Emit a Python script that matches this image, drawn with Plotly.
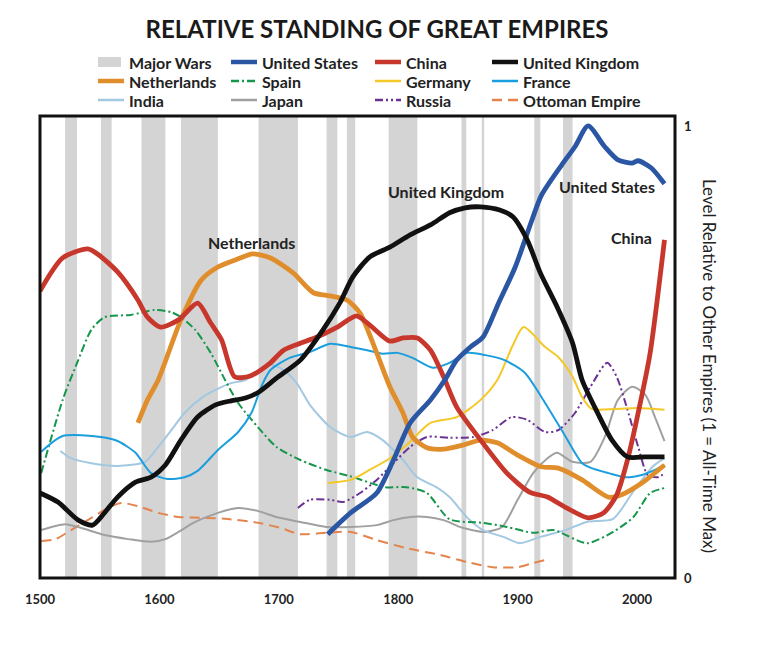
import plotly.graph_objects as go

# ---------------- data ----------------
war_start = [1521, 1551, 1585, 1618, 1683, 1740, 1757, 1792, 1853, 1870, 1914, 1938]
war_end   = [1531, 1560, 1605, 1649, 1716, 1749, 1764, 1816, 1857, 1872, 1919, 1946]

china_years = [1500,1519,1540,1549,1565,1582,1590,1601,1616,1632,1643,1652,1663,1676,1693,1704,1732,1749,1765,1776,1793,1804,1816,1827,1838,1849,1869,1891,1910,1925,1941,1959,1972,1983,1992,2002,2011,2023]
china_vals  = [0.635,0.708,0.728,0.715,0.677,0.615,0.577,0.555,0.571,0.608,0.564,0.527,0.445,0.447,0.476,0.504,0.533,0.555,0.580,0.560,0.524,0.531,0.531,0.504,0.445,0.378,0.305,0.232,0.190,0.179,0.155,0.133,0.144,0.184,0.261,0.378,0.498,0.748]

us_years = [1741,1760,1782,1796,1810,1827,1839,1849,1860,1871,1884,1898,1912,1920,1937,1948,1959,1973,1984,1996,2001,2012,2023]
us_vals  = [0.097,0.144,0.188,0.261,0.343,0.394,0.438,0.482,0.510,0.533,0.608,0.688,0.792,0.847,0.914,0.954,1.0,0.954,0.925,0.918,0.923,0.907,0.872]

uk_years = [1500,1515,1532,1544,1554,1565,1580,1593,1605,1618,1632,1647,1660,1672,1683,1698,1718,1737,1751,1762,1776,1793,1810,1827,1843,1856,1869,1885,1896,1908,1919,1933,1946,1954,1967,1979,1992,2007,2023]
uk_vals  = [0.188,0.168,0.128,0.117,0.144,0.179,0.212,0.223,0.250,0.305,0.356,0.383,0.392,0.398,0.411,0.442,0.482,0.549,0.608,0.666,0.710,0.732,0.759,0.781,0.808,0.819,0.821,0.814,0.799,0.748,0.675,0.600,0.520,0.438,0.365,0.305,0.268,0.268,0.268]

nl_years = [1582,1590,1599,1618,1635,1649,1666,1678,1693,1712,1729,1743,1757,1768,1782,1793,1804,1812,1824,1838,1854,1869,1883,1900,1920,1934,1954,1976,1987,2004,2023]
nl_vals  = [0.343,0.394,0.438,0.571,0.659,0.688,0.706,0.717,0.708,0.675,0.631,0.624,0.615,0.586,0.498,0.423,0.365,0.312,0.288,0.285,0.294,0.305,0.299,0.272,0.246,0.243,0.217,0.179,0.184,0.210,0.250]

spain_years = [1501,1519,1532,1543,1554,1576,1596,1610,1618,1630,1643,1655,1666,1683,1698,1718,1740,1760,1789,1807,1824,1843,1871,1891,1913,1930,1958,1980,1997,2011,2023]
spain_vals  = [0.232,0.394,0.482,0.549,0.577,0.582,0.593,0.588,0.577,0.549,0.498,0.438,0.387,0.332,0.290,0.261,0.239,0.225,0.201,0.201,0.188,0.130,0.122,0.113,0.100,0.106,0.077,0.102,0.135,0.188,0.199]

germany_years = [1741,1760,1776,1793,1807,1827,1849,1869,1883,1896,1905,1923,1934,1946,1954,1962,1982,2001,2023]
germany_vals  = [0.210,0.217,0.239,0.265,0.294,0.343,0.356,0.394,0.438,0.515,0.555,0.511,0.489,0.445,0.400,0.374,0.374,0.376,0.372]

france_years = [1501,1519,1551,1565,1580,1593,1607,1621,1632,1649,1666,1677,1686,1693,1709,1726,1743,1760,1774,1787,1799,1812,1829,1843,1858,1873,1889,1906,1920,1937,1954,1962,1976,1990,2004,2015,2023]
france_vals  = [0.279,0.314,0.312,0.303,0.277,0.232,0.219,0.223,0.237,0.283,0.323,0.365,0.427,0.460,0.487,0.500,0.518,0.511,0.504,0.496,0.498,0.487,0.465,0.476,0.498,0.493,0.482,0.454,0.400,0.327,0.254,0.243,0.232,0.223,0.228,0.239,0.250]

india_years = [1517,1526,1543,1565,1588,1599,1610,1621,1635,1647,1660,1672,1693,1704,1715,1726,1743,1760,1774,1787,1804,1816,1832,1843,1858,1871,1888,1902,1919,1940,1958,1980,1996,2013,2023]
india_vals  = [0.281,0.265,0.254,0.248,0.257,0.290,0.327,0.365,0.398,0.416,0.431,0.438,0.471,0.460,0.431,0.383,0.334,0.312,0.323,0.305,0.261,0.223,0.201,0.179,0.133,0.106,0.091,0.077,0.091,0.106,0.124,0.131,0.188,0.246,0.265]

japan_years = [1501,1521,1534,1554,1574,1593,1605,1616,1630,1649,1666,1683,1698,1718,1740,1760,1782,1796,1810,1824,1838,1854,1873,1887,1900,1913,1925,1933,1946,1961,1973,1984,1996,2007,2015,2023]
japan_vals  = [0.106,0.119,0.111,0.095,0.086,0.080,0.086,0.102,0.124,0.144,0.155,0.148,0.135,0.124,0.113,0.113,0.117,0.128,0.135,0.135,0.128,0.111,0.102,0.113,0.173,0.232,0.265,0.277,0.257,0.257,0.312,0.394,0.423,0.405,0.356,0.303]

russia_years = [1716,1726,1743,1754,1768,1782,1796,1810,1824,1843,1863,1879,1895,1908,1923,1934,1948,1961,1975,1983,1992,2001,2009,2018,2023]
russia_vals  = [0.155,0.173,0.173,0.168,0.188,0.217,0.254,0.290,0.312,0.310,0.312,0.327,0.356,0.350,0.323,0.327,0.365,0.423,0.476,0.445,0.372,0.290,0.228,0.223,0.232]

ottoman_years = [1501,1513,1526,1543,1557,1568,1582,1599,1616,1638,1655,1683,1701,1718,1740,1760,1782,1807,1835,1858,1879,1900,1913,1923]
ottoman_vals  = [0.082,0.086,0.106,0.133,0.155,0.166,0.159,0.144,0.135,0.133,0.131,0.122,0.111,0.097,0.100,0.102,0.084,0.066,0.051,0.035,0.024,0.024,0.033,0.040]

x_ticks = [1500, 1600, 1700, 1800, 1900, 2000]

# name, years, values, color, width, dash
series = [
    ("Ottoman Empire", ottoman_years, ottoman_vals, "#e4844c", 2, "10px,6px"),
    ("Japan", japan_years, japan_vals, "#a0a0a0", 2, "solid"),
    ("India", india_years, india_vals, "#a3c8e2", 2, "solid"),
    ("Russia", russia_years, russia_vals, "#6b3195", 2, "8px,3px,2px,3px,2px,3px"),
    ("Spain", spain_years, spain_vals, "#15964a", 2, "8px,3px,2px,3px"),
    ("Germany", germany_years, germany_vals, "#f4c826", 2, "solid"),
    ("France", france_years, france_vals, "#1b9ede", 2, "solid"),
    ("Netherlands", nl_years, nl_vals, "#e08e2c", 4.8, "solid"),
    ("China", china_years, china_vals, "#c8372b", 4.8, "solid"),
    ("United States", us_years, us_vals, "#2b56a3", 4.8, "solid"),
    ("United Kingdom", uk_years, uk_vals, "#111111", 4.8, "solid"),
]
style = {s[0]: s for s in series}

legend_rows = [
    ["Major Wars", "United States", "China", "United Kingdom"],
    ["Netherlands", "Spain", "Germany", "France"],
    ["India", "Japan", "Russia", "Ottoman Empire"],
]

# page body margin offsets the figure by 8px
OFF = 8
W, H = 768 - OFF, 647 - OFF
ML, MR, MT, MB = 40 - OFF, 93, 116 - OFF, 69
PW, PH = W - ML - MR, H - MT - MB

def px(xs):
    # screen x pixel -> paper fraction
    return (xs - OFF - ML) / PW

def py(ys):
    # screen y pixel -> paper fraction
    return (OFF + H - MB - ys) / PH

fig = go.Figure()
for name, yrs, vals, color, width, dash in series:
    fig.add_trace(go.Scatter(
        x=yrs, y=vals, mode="lines", name=name, showlegend=False,
        line=dict(color=color, width=width, dash=dash, shape="spline", smoothing=0.7),
        hoverinfo="skip"))

shapes = []
for s, e in zip(war_start, war_end):
    shapes.append(dict(type="rect", xref="x", yref="paper", x0=s, x1=e, y0=0, y1=1,
                       fillcolor="#d4d4d4", line=dict(width=0), layer="below"))
shapes.append(dict(type="rect", xref="paper", yref="paper", x0=0, x1=1, y0=0, y1=1,
                   line=dict(color="#111111", width=3), layer="above"))

annotations = []
FONT = "Lato, 'Open Sans', sans-serif"
col_sym = [98, 231, 375, 492]
row_y = [62, 81, 100]
for r, row in enumerate(legend_rows):
    for c, name in enumerate(row):
        x0 = col_sym[c]
        yy = row_y[r]
        if name == "Major Wars":
            shapes.append(dict(type="rect", xref="paper", yref="paper",
                               x0=px(x0), x1=px(x0 + 23), y0=py(yy - 5), y1=py(yy + 5),
                               fillcolor="#d4d4d4", line=dict(width=0)))
        else:
            _, _, _, color, width, dash = style[name]
            shapes.append(dict(type="line", xref="paper", yref="paper",
                               x0=px(x0), x1=px(x0 + 26), y0=py(yy), y1=py(yy),
                               line=dict(color=color, width=4.5 if width > 3 else 2.5, dash=dash)))
        annotations.append(dict(xref="paper", yref="paper", x=px(x0 + 29), y=py(yy),
                                xanchor="left", yanchor="middle", showarrow=False, text=name,
                                font=dict(family=FONT, size=16, color="#222222", weight="bold")))

labels = [("Netherlands", 1677, 0.743), ("United Kingdom", 1840, 0.856),
          ("United States", 1975, 0.865), ("China", 1995, 0.754)]
for t, xv, yv in labels:
    annotations.append(dict(xref="x", yref="y", x=xv, y=yv, text=t, showarrow=False,
                            xanchor="center", yanchor="middle",
                            font=dict(family=FONT, size=16, color="#222222", weight="bold")))

annotations.append(dict(xref="paper", yref="paper", x=px(710), y=py(366), textangle=90,
                        text="Level Relative to Other Empires (1 = All-Time Max)", showarrow=False,
                        xanchor="center", yanchor="middle",
                        font=dict(family=FONT, size=17, color="#222222")))

fig.update_layout(
    width=W, height=H,
    margin=dict(l=ML, r=MR, t=MT, b=MB),
    paper_bgcolor="white", plot_bgcolor="white",
    title=dict(text="RELATIVE STANDING OF GREAT EMPIRES", x=(377 - OFF) / W, xref="container",
               xanchor="center", y=1 - (30 - OFF) / H, yref="container", yanchor="middle",
               font=dict(family=FONT, size=24, color="#1a1a1a", weight="bold")),
    shapes=shapes, annotations=annotations,
    xaxis=dict(range=[1500, 2031.8], tickvals=x_ticks, showgrid=False, zeroline=False,
               showline=False, ticks="", ticklabelstandoff=12,
               tickfont=dict(family=FONT, size=13, color="#222222", weight="bold")),
    yaxis=dict(range=[0, 1.022], side="right", tickvals=[0, 1], ticktext=["0", "1"],
               showgrid=False, zeroline=False, showline=False, ticks="", ticklabelstandoff=8,
               tickfont=dict(family=FONT, size=13, color="#222222", weight="bold")),
)

fig.write_html("out.html")
